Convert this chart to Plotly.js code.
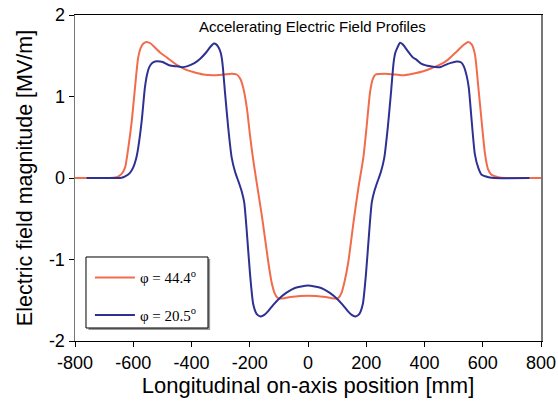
<!DOCTYPE html>
<html>
<head>
<meta charset="utf-8">
<script src="https://cdn.plot.ly/plotly-3.0.1.min.js"></script>
<style>html,body{margin:0;padding:0;background:#fff;}#chart{width:558px;height:404px;}</style>
</head>
<body>
<div id="chart"></div>
<script>
// phi = 44.4 deg profile
var xPhi44 = [-800,-700,-670,-657,-640,-628,-617,-605,-594,-583,-574,-565,-554,-540,-531,-508,-485,-451,-420,-394,-360,-326,-290,-262,-245,-233,-222,-210,-199,-188,-176,-159,-148,-136,-125,-115,-105,-95,-60,0,60,95,105,115,125,138,156,173,190,201,213,222,232,264,300,327,360,396,426,453,480,510,530,550,562,573,585,596,608,618,630,653,680,800];
var yPhi44 = [0,0,0.003,0.01,0.05,0.13,0.37,0.70,1.11,1.48,1.60,1.65,1.67,1.65,1.62,1.54,1.48,1.39,1.33,1.30,1.27,1.26,1.27,1.28,1.27,1.22,1.10,0.86,0.52,0.22,-0.06,-0.45,-0.73,-1.04,-1.28,-1.41,-1.47,-1.48,-1.46,-1.445,-1.46,-1.48,-1.47,-1.41,-1.28,-1.04,-0.55,-0.12,0.25,0.62,1.05,1.21,1.27,1.28,1.27,1.26,1.28,1.31,1.35,1.39,1.45,1.55,1.62,1.67,1.64,1.52,1.11,0.70,0.29,0.11,0.04,0.01,0,0];

// phi = 20.5 deg profile
var xPhi20 = [-760,-660,-640,-628,-612,-600,-590,-583,-571,-560,-552,-545,-535,-525,-508,-497,-474,-451,-430,-416,-390,-371,-350,-335,-323,-315,-307,-300,-294,-285,-274,-262,-250,-239,-228,-219,-211,-199,-188,-176,-162,-150,-136,-120,-102,-75,-45,0,45,75,102,120,136,150,162,176,188,199,211,219,228,239,250,262,274,285,294,300,307,316,325,340,360,373,390,420,453,480,510,525,535,545,552,562,573,585,596,620,640,760];
var yPhi20 = [0,0,0.003,0.02,0.06,0.13,0.24,0.37,0.70,1.11,1.28,1.36,1.41,1.43,1.43,1.42,1.38,1.37,1.36,1.37,1.41,1.46,1.54,1.61,1.65,1.64,1.60,1.54,1.42,1.05,0.62,0.25,0.07,-0.04,-0.16,-0.30,-0.62,-1.18,-1.55,-1.67,-1.70,-1.68,-1.63,-1.56,-1.49,-1.41,-1.35,-1.32,-1.35,-1.41,-1.49,-1.56,-1.63,-1.68,-1.70,-1.67,-1.55,-1.18,-0.62,-0.30,-0.16,-0.04,0.07,0.25,0.62,1.05,1.42,1.54,1.60,1.66,1.64,1.57,1.48,1.45,1.40,1.37,1.36,1.40,1.43,1.42,1.37,1.25,1.11,0.70,0.29,0.12,0.04,0.01,0,0];

var legendPhi44 = 'φ = 44.4<sup>o</sup>';
var legendPhi20 = 'φ = 20.5<sup>o</sup>';
var xTicks = [-800,-600,-400,-200,0,200,400,600,800];
var yTicks = [-2,-1,0,1,2];

var traces = [
  {x: xPhi44, y: yPhi44, name: legendPhi44, type: 'scatter', mode: 'lines',
   line: {color: '#F26B4B', width: 2, shape: 'spline', smoothing: 0.6}, legendgroup: 'a'},
  {x: xPhi20, y: yPhi20, name: legendPhi20, type: 'scatter', mode: 'lines',
   line: {color: '#2E3192', width: 2, shape: 'spline', smoothing: 0.6}, legendgroup: 'b'}
];

var layout = {
  width: 558, height: 404,
  margin: {l: 75, r: 17, t: 15, b: 63},
  paper_bgcolor: '#fff', plot_bgcolor: '#fff',
  font: {family: 'Liberation Sans, Arial, sans-serif', color: '#000'},
  showlegend: true,
  legend: {x: 0.032, y: 0.245, xanchor: 'left', yanchor: 'top',
    bgcolor: 'rgba(0,0,0,0)', borderwidth: 0, itemwidth: 40,
    font: {family: 'Liberation Serif, Times New Roman, serif', size: 15, color: '#000'},
    traceorder: 'grouped', tracegroupgap: 15},
  shapes: [
    {type: 'rect', xref: 'paper', yref: 'paper', x0: 0.029, x1: 0.290, y0: 0.034, y1: 0.252,
     fillcolor: '#999', line: {width: 0}, layer: 'above'},
    {type: 'rect', xref: 'paper', yref: 'paper', x0: 0.0236, x1: 0.2854, y0: 0.0399, y1: 0.2577,
     fillcolor: '#fff', line: {color: '#000', width: 1}, layer: 'above'}
  ],
  xaxis: {range: [-800, 800], tickvals: xTicks, ticktext: xTicks.map(String),
    showgrid: false, zeroline: false, showline: true, linecolor: '#000', linewidth: 1,
    mirror: true, ticks: 'outside', ticklen: 5, tickcolor: '#000',
    tickfont: {size: 18}, title: {text: 'Longitudinal on-axis position [mm]', font: {size: 22}, standoff: 6}},
  yaxis: {range: [-2, 2], tickvals: yTicks, ticktext: yTicks.map(String),
    showgrid: false, zeroline: false, showline: true, linecolor: '#777', linewidth: 1.5,
    mirror: true, ticks: 'outside', ticklen: 5, tickcolor: '#000',
    tickfont: {size: 18}, title: {text: 'Electric field magnitude [MV/m]', font: {size: 21.5}, standoff: 10}},
  annotations: [{text: 'Accelerating Electric Field Profiles', xref: 'paper', yref: 'paper',
    x: 0.5086, y: 0.966, xanchor: 'center', yanchor: 'middle', showarrow: false,
    font: {size: 15, color: '#000'}}]
};

Plotly.newPlot('chart', traces, layout, {displayModeBar: false, staticPlot: true});
</script>
</body>
</html>
